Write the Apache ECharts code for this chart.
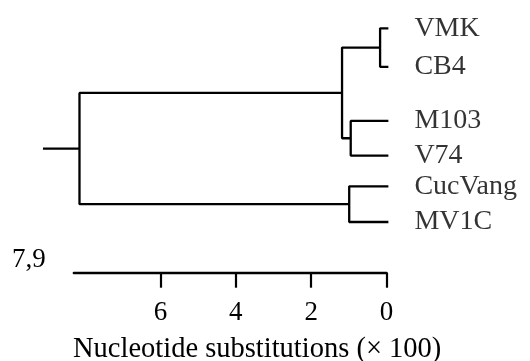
<!DOCTYPE html>
<html>
<head>
<meta charset="utf-8">
<script src="https://cdn.jsdelivr.net/npm/echarts@6/dist/echarts.min.js"></script>
<style>
html,body{margin:0;padding:0;background:#fff;}
#tree{width:530px;height:361px;}
</style>
</head>
<body>
<div id="tree"></div>
<script>
//叶子名称
var leafNames = ['VMK', 'CB4', 'M103', 'V74', 'CucVang', 'MV1C'];
//叶子所在行(纵向位置)
var leafRows = [0.81, 1.91, 3.46, 4.45, 5.33, 6.35];
//叶子的高度(置换数 x100)
var leafHeights = [-0.05, -0.05, -0.05, -0.05, -0.05, -0.05];
//内部节点: 高度和子节点编号(0-5为叶子, 6起为内部节点)
var nodeHeights = [0.17, 0.95, 1.18, 0.99, 8.15];
var nodeChildren = [[0, 1], [2, 3], [6, 7], [4, 5], [8, 9]];
//根节点左侧短线的终点
var rootStub = 9.12;
//刻度
var tickValues = [0, 2, 4, 6];
var axisMax = 8.3;
var rootLabel = '7,9';

//计算所有节点的位置
var nodes = [];
for (var i = 0; i < leafNames.length; i++) {
	nodes.push({h: leafHeights[i], y: leafRows[i]});
}
for (var j = 0; j < nodeHeights.length; j++) {
	var c = nodeChildren[j];
	nodes.push({h: nodeHeights[j], y: (nodes[c[0]].y + nodes[c[1]].y) / 2});
}

//拼接树的线段
var lines = [];
for (var j = 0; j < nodeHeights.length; j++) {
	var p = nodes[leafNames.length + j];
	for (var k = 0; k < 2; k++) {
		var ch = nodes[nodeChildren[j][k]];
		lines.push([p.h, p.y], [p.h, ch.y], [ch.h, ch.y], '-');
	}
}
var root = nodes[nodes.length - 1];
lines.push([rootStub, root.y], [root.h, root.y]);

var leafData = [];
for (var i = 0; i < leafNames.length; i++) {
	leafData.push({name: leafNames[i], value: [leafHeights[i], leafRows[i]]});
}

var font = 'Liberation Serif';
var unit = 37.67; //每单位像素
var right = 143.5;
var chart = echarts.init(document.getElementById('tree'));
var option = {
	animation: false,
	title: {
		text: rootLabel,
		left: 7,
		top: 241,
		textStyle: {fontFamily: font, fontSize: 27, fontWeight: 'normal', color: '#000'}
	},
	grid: [
		{left: 530 - right - 9.3 * unit, right: right, top: 0, bottom: 88.3, outerBoundsMode: 'none'},
		{left: 530 - right - axisMax * unit, right: right, top: 0, bottom: 88.3, outerBoundsMode: 'none'}
	],
	xAxis: [
		{
			type: 'value',
			gridIndex: 0,
			inverse: true,
			min: 0,
			max: 9.3,
			show: false
		},
		{
			type: 'value',
			gridIndex: 1,
			inverse: true,
			min: 0,
			max: axisMax,
			splitLine: {show: false},
			axisLine: {onZero: false, lineStyle: {color: '#000', width: 2.4}},
			axisTick: {customValues: tickValues, length: 15, lineStyle: {color: '#000', width: 2.2}},
			axisLabel: {customValues: tickValues, margin: 27, fontFamily: font, fontSize: 27, color: '#000'},
			name: 'Nucleotide substitutions (\u00d7 100)',
			nameLocation: 'middle',
			nameGap: 62,
			nameTextStyle: {fontFamily: font, fontSize: 28.5, color: '#000', padding: [0, 0, 0, 54]}
		}
	],
	yAxis: [
		{type: 'value', gridIndex: 0, inverse: true, min: 0, max: 7.8, show: false},
		{type: 'value', gridIndex: 1, inverse: true, min: 0, max: 7.8, show: false}
	],
	series: [
		{
			type: 'line',
			data: lines,
			symbol: 'none',
			clip: false,
			connectNulls: false,
			lineStyle: {color: '#000', width: 2.3}
		},
		{
			type: 'scatter',
			data: leafData,
			symbolSize: 0,
			clip: false,
			label: {
				show: true,
				position: 'right',
				distance: 26,
				formatter: '{b}',
				fontFamily: font,
				fontSize: 28,
				color: '#000'
			}
		}
	]
};
chart.setOption(option);
</script>
</body>
</html>
